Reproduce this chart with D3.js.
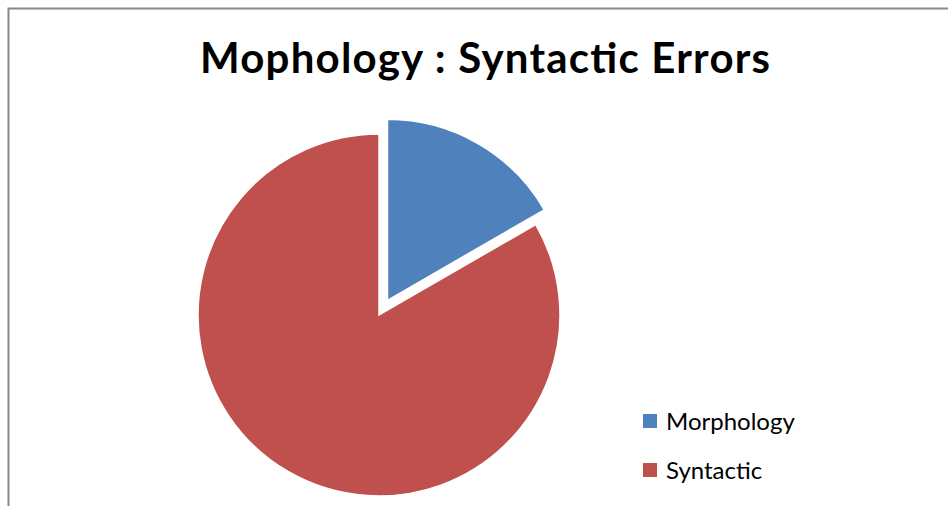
<!DOCTYPE html>
<html>
<head>
<meta charset="utf-8">
<script src="https://cdn.jsdelivr.net/npm/d3@7"></script>
<style>
  body { margin: 0; background: #fff; }
  svg { display: block; }
</style>
</head>
<body>
<div id="chartdiv"></div>
<script>
// data
let categories = ["Morphology", "Syntactic"]
let values = [1, 5]
let colors = ["#4f81bd", "#c0504d"]
let title = "Mophology : Syntactic Errors"

let width = 948
let height = 506
let cx = 379
let cy = 315
let radius = 181
let explode = [17, 0]

let svg = d3.select("#chartdiv")
   .append("svg")
   .attr("width", width)
   .attr("height", height)

// chart frame
svg.append("path")
   .attr("d", `M8.5,${height} V8.5 H${width}`)
   .attr("fill", "none")
   .attr("stroke", "#888")
   .attr("stroke-width", 2)

svg.append("text")
   .attr("x", 200)
   .attr("y", 73)
   .attr("textLength", 570)
   .attr("lengthAdjust", "spacing")
   .attr("font-family", "Lato, 'Open Sans', sans-serif")
   .attr("font-weight", "bold")
   .attr("font-size", 42)
   .attr("fill", "#000")
   .text(title)

let pie = d3.pie().sort(null).value(d => d)
let arc = d3.arc().innerRadius(0).outerRadius(radius)
let arcs = pie(values)

let g = svg.append("g").attr("transform", `translate(${cx}, ${cy})`)
g.selectAll("path")
   .data(arcs)
   .join("path")
   .attr("d", arc)
   .attr("fill", (d, i) => colors[i])
   .attr("stroke", "#fff")
   .attr("stroke-width", 1.5)
   .attr("transform", (d, i) => {
      let mid = (d.startAngle + d.endAngle) / 2
      return `translate(${Math.sin(mid) * explode[i]}, ${-Math.cos(mid) * explode[i]})`
   })

// legend
let legend = svg.append("g").attr("transform", "translate(643, 414)")
categories.forEach((name, i) => {
   let row = legend.append("g").attr("transform", `translate(0, ${i * 49})`)
   row.append("rect")
      .attr("width", 14)
      .attr("height", 14)
      .attr("fill", colors[i])
   row.append("text")
      .attr("x", 23)
      .attr("y", 16)
      .attr("font-family", "Lato, 'Open Sans', sans-serif")
      .attr("font-size", 24)
      .attr("fill", "#000")
      .text(name)
})
</script>
</body>
</html>
